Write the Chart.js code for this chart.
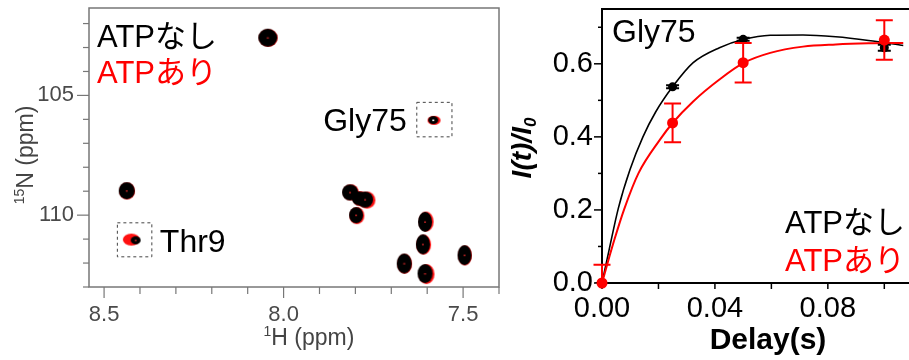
<!DOCTYPE html>
<html>
<head>
<meta charset="utf-8">
<script src="https://cdn.jsdelivr.net/npm/chart.js@4.4.1/dist/chart.umd.min.js"></script>
<style>
  body { margin: 0; background: #fff; width: 909px; height: 360px; overflow: hidden; position: relative; }
  #left { position: absolute; left: 0; top: 0; }
  #right { position: absolute; left: 500px; top: 0; }
</style>
</head>
<body>
<div id="left"><canvas id="nmr" width="505" height="360"></canvas></div>
<div id="right"><canvas id="relax" width="409" height="360"></canvas></div>
<script>
// HSQCのピーク位置 (1H ppm, 15N ppm)
const peakH_noATP = [8.044, 7.583, 8.437, 8.412, 7.815, 7.790, 7.773, 7.798, 7.606, 7.612, 7.664, 7.606, 7.496];
const peakN_noATP = [102.59, 106.03, 108.98, 111.05, 109.05, 109.30, 109.35, 110.00, 110.28, 111.22, 112.02, 112.44, 111.67];
const peakH_ATP = [8.043, 7.581, 8.436, 8.424, 7.813, 7.787, 7.768, 7.796, 7.603, 7.610, 7.663, 7.602, 7.495];
const peakN_ATP = [102.60, 106.04, 108.99, 111.02, 109.05, 109.31, 109.37, 110.02, 110.27, 111.23, 112.03, 112.46, 111.68];

// 強度の回復 I(t)/I0
const delay = [0, 0.025, 0.05, 0.1];
const noATP = [0, 0.537, 0.667, 0.644];
const noATPErr = [0, 0.004, 0.004, 0.008];
const withATP = [0, 0.438, 0.603, 0.665];
const withATPErr = [0.05, 0.053, 0.054, 0.054];

// フィット曲線
const fitT_noATP = [0, 0.0025, 0.0058, 0.0099, 0.0145, 0.019, 0.025, 0.0323, 0.0416, 0.0503, 0.0596, 0.0712, 0.0828, 0.0944, 0.1068];
const fitY_noATP = [0, 0.09, 0.205, 0.31, 0.40, 0.468, 0.537, 0.603, 0.644, 0.667, 0.678, 0.679, 0.674, 0.664, 0.650];
const fitT_ATP = [0, 0.0021, 0.0044, 0.0079, 0.0129, 0.0206, 0.025, 0.0323, 0.0416, 0.0503, 0.0596, 0.0712, 0.0828, 0.0944, 0.1068];
const fitY_ATP = [0, 0.058, 0.119, 0.203, 0.30, 0.393, 0.438, 0.497, 0.557, 0.603, 0.630, 0.647, 0.653, 0.656, 0.657];

// 見た目 (ピークの幅・高さ px)
const blackW = [19, 10, 16, 10, 16, 14, 16, 14, 14, 14, 15, 15, 14];
const blackH = [18, 8, 17, 8, 16, 14, 16, 16, 20, 20, 20, 19, 20];
const redW = [19, 13, 16, 17, 16, 15, 17, 15, 15, 15, 15, 16, 14];
const redH = [18, 9, 17, 12, 16, 15, 17, 17, 20, 20, 20, 20, 20];

const FONT = "'Liberation Sans', 'Noto Sans CJK JP', sans-serif";
Chart.defaults.font.family = FONT;

function blob(w, h, color, dot) {
  const c = document.createElement('canvas');
  c.width = w + 4; c.height = h + 4;
  const g = c.getContext('2d');
  g.filter = 'blur(0.6px)';
  g.fillStyle = color;
  g.beginPath();
  g.ellipse(c.width / 2, c.height / 2, w / 2, h / 2, 0, 0, Math.PI * 2);
  g.fill();
  if (dot) {
    g.filter = 'none';
    g.fillStyle = dot;
    g.fillRect(c.width / 2 - 1, c.height / 2 - 0.5, 2, 1.5);
  }
  return c;
}

function richText(ctx, parts, x, y, align) {
  let w = 0;
  parts.forEach(p => { ctx.font = p.font; w += ctx.measureText(p.t).width; });
  let cx = align === 'center' ? x - w / 2 : align === 'right' ? x - w : x;
  ctx.textAlign = 'left';
  ctx.textBaseline = 'alphabetic';
  parts.forEach(p => {
    ctx.font = p.font;
    ctx.fillText(p.t, cx, y + (p.dy || 0));
    cx += ctx.measureText(p.t).width;
  });
}

function text(ctx, t, x, y, font, color, align) {
  ctx.font = font;
  ctx.fillStyle = color;
  ctx.textAlign = align || 'left';
  ctx.textBaseline = 'alphabetic';
  ctx.fillText(t, x, y);
}

// 目盛り線を描く (ラベルがあれば長く)
function drawTicks(ctx, scale, side, majorLen, minorLen) {
  scale.ticks.forEach(tk => {
    if (tk.value < scale.min - 1e-9 || tk.value > scale.max + 1e-9) return;
    const len = tk.label !== '' ? majorLen : minorLen;
    const p = scale.getPixelForValue(tk.value);
    ctx.beginPath();
    if (side === 'left') { ctx.moveTo(scale.right, p); ctx.lineTo(scale.right - len, p); }
    else { ctx.moveTo(p, scale.top); ctx.lineTo(p, scale.top + len); }
    ctx.stroke();
  });
}

// 軸の余白を固定
function fixX(h) {
  return s => { s.height = h; s.paddingLeft = 0; s.paddingRight = 0; };
}
function fixY(w) {
  return s => { s.width = w; s.paddingTop = 0; s.paddingBottom = 0; };
}

const nmrPlugin = {
  id: 'nmrDecor',
  beforeDatasetsDraw(chart) {
    const { ctx, chartArea: a, scales: { x, y } } = chart;
    ctx.save();
    ctx.strokeStyle = '#777';
    ctx.lineWidth = 1.5;
    ctx.strokeRect(a.left, a.top, a.right - a.left, a.bottom - a.top);
    ctx.lineWidth = 1.2;
    drawTicks(ctx, y, 'left', 12, 6);
    drawTicks(ctx, x, 'bottom', 11, 7);

    // 点線の枠 (Gly75, Thr9)
    ctx.strokeStyle = '#444';
    ctx.lineWidth = 1;
    ctx.setLineDash([3, 3]);
    const boxes = [[7.629, 7.531, 105.29, 106.73], [8.463, 8.367, 110.32, 111.74]];
    boxes.forEach(b => {
      const x0 = x.getPixelForValue(b[0]), x1 = x.getPixelForValue(b[1]);
      const y0 = y.getPixelForValue(b[2]), y1 = y.getPixelForValue(b[3]);
      ctx.strokeRect(x0, y0, x1 - x0, y1 - y0);
    });
    ctx.setLineDash([]);

    // ラベル
    const gx = x.getPixelForValue(7.629), gy = y.getPixelForValue(106.01);
    text(ctx, 'Gly75', gx - 10, gy + 11, '32px ' + FONT, '#000', 'right');
    const tx = x.getPixelForValue(8.367), ty = y.getPixelForValue(111.03);
    text(ctx, 'Thr9', tx + 8, ty + 12, '32px ' + FONT, '#000', 'left');

    text(ctx, 'ATPなし', a.left + 8, 47, '31px ' + FONT, '#000');
    text(ctx, 'ATPあり', a.left + 8, 83, '31px ' + FONT, '#ff0000');

    // 軸タイトル
    ctx.fillStyle = '#444';
    richText(ctx, [{ t: '1', font: '14px ' + FONT, dy: -9 }, { t: 'H (ppm)', font: '23px ' + FONT }], 309, 345, 'center');
    ctx.save();
    ctx.translate(33, 155);
    ctx.rotate(-Math.PI / 2);
    richText(ctx, [{ t: '15', font: '14px ' + FONT, dy: -9 }, { t: 'N (ppm)', font: '23px ' + FONT }], 0, 0, 'center');
    ctx.restore();
    ctx.restore();
  }
};

new Chart(document.getElementById('nmr'), {
  type: 'scatter',
  data: {
    datasets: [
      {
        label: 'ATPあり',
        data: peakH_ATP.map((h, i) => ({ x: h, y: peakN_ATP[i] })),
        pointStyle: redW.map((w, i) => blob(w, redH[i], '#ff1010')),
        order: 2
      },
      {
        label: 'ATPなし',
        data: peakH_noATP.map((h, i) => ({ x: h, y: peakN_noATP[i] })),
        pointStyle: blackW.map((w, i) => blob(w, blackH[i], '#000', i === 1 ? '#fff' : '#b02020')),
        order: 1
      }
    ]
  },
  options: {
    responsive: false,
    animation: false,
    devicePixelRatio: 1,
    layout: { padding: { top: 8, right: 6, left: 0, bottom: 0 } },
    plugins: { legend: { display: false }, tooltip: { enabled: false } },
    scales: {
      x: {
        type: 'linear', reverse: true, min: 7.40, max: 8.542,
        afterFit: fixX(73),
        border: { display: false },
        grid: { drawOnChartArea: false, tickLength: 11, tickColor: 'rgba(0,0,0,0)' },
        ticks: {
          stepSize: 0.1, includeBounds: false, autoSkip: false, maxRotation: 0, padding: 4,
          color: '#4a4a4a', font: { size: 22 },
          callback: v => Math.abs(v * 2 - Math.round(v * 2)) < 1e-6 ? v.toFixed(1) : ''
        }
      },
      y: {
        type: 'linear', reverse: true, min: 101.35, max: 113,
        afterFit: fixY(89),
        border: { display: false },
        grid: { drawOnChartArea: false, tickLength: 12, tickColor: 'rgba(0,0,0,0)' },
        ticks: {
          stepSize: 1, includeBounds: false, autoSkip: false, padding: 3,
          color: '#4a4a4a', font: { size: 22 },
          callback: v => Math.round(v) % 5 === 0 ? String(Math.round(v)) : ''
        }
      }
    }
  },
  plugins: [nmrPlugin]
});

const relaxPlugin = {
  id: 'relaxDecor',
  beforeDatasetsDraw(chart) {
    const { ctx, chartArea: a, scales: { x, y }, width } = chart;
    ctx.save();
    ctx.strokeStyle = '#000';
    ctx.lineWidth = 2;
    ctx.beginPath();
    ctx.moveTo(width, a.top); ctx.lineTo(a.left, a.top); ctx.lineTo(a.left, a.bottom); ctx.lineTo(width, a.bottom);
    ctx.stroke();
    ctx.lineWidth = 1.5;
    drawTicks(ctx, y, 'left', 8, 4);
    drawTicks(ctx, x, 'bottom', 6, 6);

    text(ctx, 'Gly75', a.left + 10, 42, '32px ' + FONT, '#000');
    text(ctx, 'ATPなし', width - 4, 233, '31px ' + FONT, '#000', 'right');
    text(ctx, 'ATPあり', width - 4, 271, '31px ' + FONT, '#ff0000', 'right');

    ctx.fillStyle = '#000';
    richText(ctx, [{ t: 'Delay(s)', font: 'bold 30px ' + FONT }], 268, 349, 'center');
    ctx.save();
    ctx.translate(31, 148);
    ctx.rotate(-Math.PI / 2);
    richText(ctx, [
      { t: 'I(t)/I', font: 'italic bold 28px ' + FONT },
      { t: '0', font: 'italic bold 17px ' + FONT, dy: 5 }
    ], 0, 0, 'center');
    ctx.restore();
    ctx.restore();
  },
  // エラーバーは点の直前に描く
  beforeDatasetDraw(chart, args) {
    const ds = chart.data.datasets[args.index];
    if (!ds.err) return;
    const { ctx, chartArea: a, scales: { x, y } } = chart;
    ctx.save();
    ctx.beginPath();
    ctx.rect(a.left - 10, a.top, a.right - a.left + 20, a.bottom - a.top);
    ctx.clip();
    ctx.strokeStyle = ds.backgroundColor;
    ctx.lineWidth = ds.errWidth;
    ds.data.forEach((p, i) => {
      const px = x.getPixelForValue(p.x);
      const top = y.getPixelForValue(p.y + ds.err[i]);
      const bot = y.getPixelForValue(p.y - ds.err[i]);
      ctx.beginPath();
      ctx.moveTo(px, top); ctx.lineTo(px, bot);
      ctx.moveTo(px - ds.capW, top); ctx.lineTo(px + ds.capW, top);
      ctx.moveTo(px - ds.capW, bot); ctx.lineTo(px + ds.capW, bot);
      ctx.stroke();
    });
    ctx.restore();
  }
};

new Chart(document.getElementById('relax'), {
  type: 'scatter',
  data: {
    datasets: [
      {
        type: 'line', label: 'fit ATPなし',
        data: fitT_noATP.map((t, i) => ({ x: t, y: fitY_noATP[i] })),
        borderColor: '#000', borderWidth: 1.6, pointRadius: 0, cubicInterpolationMode: 'monotone', order: 4
      },
      {
        type: 'line', label: 'fit ATPあり',
        data: fitT_ATP.map((t, i) => ({ x: t, y: fitY_ATP[i] })),
        borderColor: '#ff0000', borderWidth: 2, pointRadius: 0, cubicInterpolationMode: 'monotone', order: 3
      },
      {
        label: 'ATPなし',
        data: delay.map((t, i) => ({ x: t, y: noATP[i] })),
        backgroundColor: '#000', borderWidth: 0, pointRadius: 4.5,
        err: noATPErr, capW: 6.5, errWidth: 2, clip: false, order: 2
      },
      {
        label: 'ATPあり',
        data: delay.map((t, i) => ({ x: t, y: withATP[i] })),
        backgroundColor: '#ff0000', borderWidth: 0, pointRadius: 5.5,
        err: withATPErr, capW: 8.5, errWidth: 2, clip: false, order: 1
      }
    ]
  },
  options: {
    responsive: false,
    animation: false,
    devicePixelRatio: 1,
    layout: { padding: { top: 9, right: 0, left: 0, bottom: 0 } },
    plugins: { legend: { display: false }, tooltip: { enabled: false } },
    scales: {
      x: {
        type: 'linear', min: 0, max: 0.1068,
        afterFit: fixX(77),
        border: { display: false },
        grid: { drawOnChartArea: false, tickLength: 6, tickColor: 'rgba(0,0,0,0)' },
        ticks: {
          stepSize: 0.02, includeBounds: false, autoSkip: false, maxRotation: 0, padding: 3,
          color: '#000', font: { size: 29 },
          callback: v => Math.abs(v / 0.04 - Math.round(v / 0.04)) < 1e-6 ? v.toFixed(2) : ''
        }
      },
      y: {
        type: 'linear', min: 0, max: 0.75,
        afterFit: fixY(102),
        border: { display: false },
        grid: { drawOnChartArea: false, tickLength: 8, tickColor: 'rgba(0,0,0,0)' },
        ticks: {
          stepSize: 0.1, includeBounds: false, autoSkip: false, padding: 1,
          color: '#000', font: { size: 29 },
          callback: v => Math.abs(v / 0.2 - Math.round(v / 0.2)) < 1e-6 ? v.toFixed(1) : ''
        }
      }
    }
  },
  plugins: [relaxPlugin]
});
</script>
</body>
</html>
